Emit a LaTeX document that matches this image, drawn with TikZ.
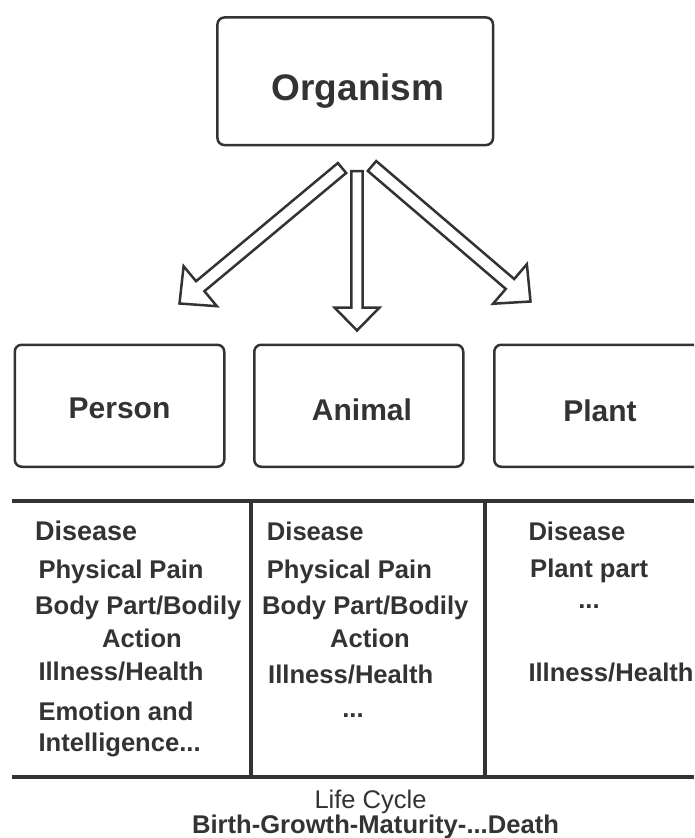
\documentclass[tikz,border=0pt]{standalone}
\usepackage{fontspec}
\setmainfont{Liberation Sans}
\usetikzlibrary{calc}
\definecolor{ink}{HTML}{333333}
\newcommand\hollowarrow[5]{% tail, tip, shaft half width, head half width, head length
  \coordinate (hb) at ($(#2)!#5!(#1)$);
  \draw[arrowline] ($(#1)!#3!90:(#2)$) -- ($(hb)!#3!90:(#2)$) -- ($(hb)!#4!90:(#2)$) -- (#2)
    -- ($(hb)!#4!-90:(#2)$) -- ($(hb)!#3!-90:(#2)$) -- ($(#1)!#3!-90:(#2)$) -- cycle;}
\begin{document}
\begin{tikzpicture}[x=1pt,y=-1pt,
  box/.style={draw=ink, line width=2.5pt, rounded corners=7pt, inner sep=0pt, anchor=north west},
  arrowline/.style={draw=ink, line width=2.5pt, line join=miter, fill=white},
  tabline/.style={draw=ink, line width=3.5pt},
  title/.style={text=ink, inner sep=0pt, anchor=base, font=\bfseries\fontsize{37}{44}\selectfont},
  boxlabel/.style={text=ink, inner sep=0pt, anchor=base, font=\bfseries\fontsize{30}{36}\selectfont},
  item/.style={text=ink, inner sep=0pt, anchor=base west, font=\bfseries\fontsize{25.6}{30}\selectfont},
  citem/.style={item, anchor=base},
  foot/.style={text=ink, inner sep=0pt, anchor=base, font=\fontsize{25.5}{30}\selectfont},
  footb/.style={text=ink, inner sep=0pt, anchor=base, font=\bfseries\fontsize{25.6}{30}\selectfont}]
\useasboundingbox (0,0) rectangle (694,838);
\clip (0,0) rectangle (694,838);

% top box
\node[box, minimum width=275.6pt, minimum height=127.6pt] (org) at (216.2,16.2) {};
\node[title] (orgtxt) at (358,100) {Organism};

% arrows
\coordinate (ltail) at (342,168);
\coordinate (ltip) at (179.5,303.5);
\coordinate (vtail) at (357,171);
\coordinate (vtip) at (357,330.5);
\coordinate (rtail) at (372,166);
\coordinate (rtip) at (530.5,301.5);
\hollowarrow{ltail}{ltip}{6.5pt}{26pt}{27pt}
\hollowarrow{rtail}{rtip}{6.5pt}{26pt}{27pt}
\hollowarrow{vtail}{vtip}{5.7pt}{22.5pt}{23pt}

% three boxes
\node[box, minimum width=209.5pt, minimum height=122pt] (person) at (13.5,343.5) {};
\node[box, minimum width=209pt, minimum height=122pt] (animal) at (253,343.5) {};
\node[box, minimum width=214pt, minimum height=122pt] (plant) at (493,343.5) {};
\node[boxlabel] (persontxt) at (119.5,418) {Person};
\node[boxlabel] (animaltxt) at (362,420) {Animal};
\node[boxlabel] (planttxt) at (600,421) {Plant};

% table lines
\draw[tabline] (12,501) -- (694,501);
\draw[tabline] (12,777) -- (694,777);
\draw[tabline] (251,501) -- (251,777);
\draw[tabline] (485,501) -- (485,777);

% column 1
\node[item, font=\bfseries\fontsize{27}{32}\selectfont] (p1) at (35,540) {Disease};
\node[item] (p2) at (38.3,578) {Physical Pain};
\node[item] (p3) at (35,614) {Body Part/Bodily};
\node[citem] (p4) at (142,647) {Action};
\node[item] (p5) at (38.3,680) {Illness/Health};
\node[item] (p6) at (38.3,720) {Emotion and};
\node[item] (p7) at (38.3,751) {Intelligence...};

% column 2
\node[item] (a1) at (266.7,540) {Disease};
\node[item] (a2) at (266.7,578) {Physical Pain};
\node[item] (a3) at (262,614) {Body Part/Bodily};
\node[citem] (a4) at (370,647) {Action};
\node[item] (a5) at (268,683) {Illness/Health};
\node[citem] (a6) at (353,717) {...};

% column 3
\node[item] (b1) at (528.3,540) {Disease};
\node[item] (b2) at (530,577) {Plant part};
\node[citem] (b3) at (589,608) {...};
\node[item] (b4) at (528.3,681) {Illness/Health};

% footer
\node[foot] (life) at (370.5,808) {Life Cycle};
\node[footb] (cycle) at (375.5,833) {Birth-Growth-Maturity-...Death};
\end{tikzpicture}
\end{document}
